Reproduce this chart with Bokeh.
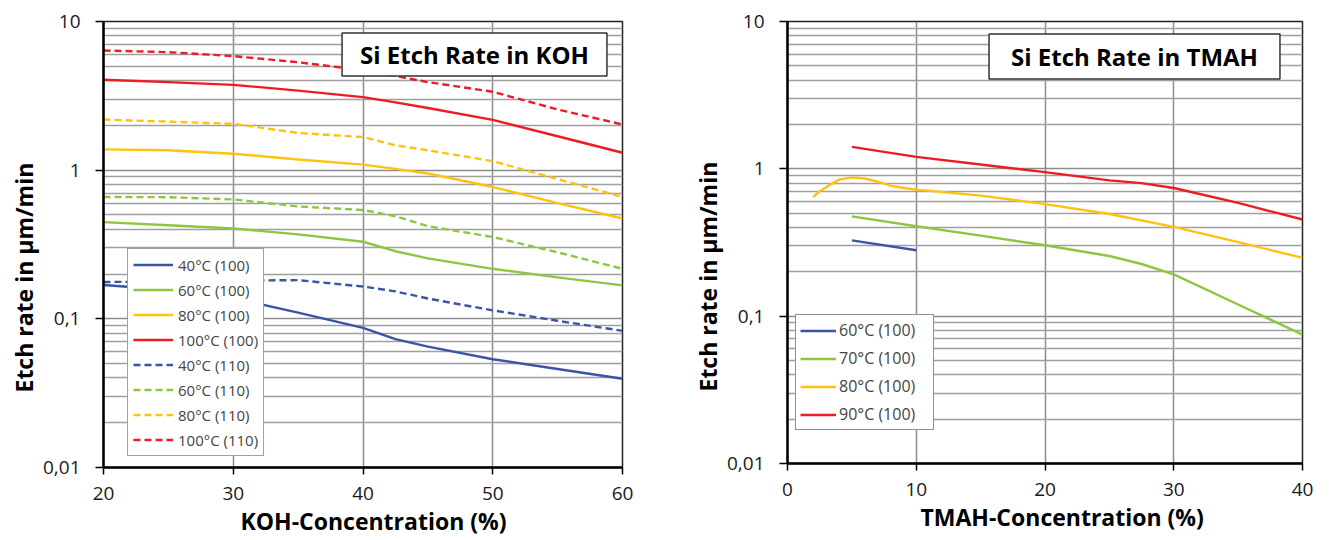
import math
from bokeh.plotting import figure
from bokeh.models import (FixedTicker, CustomJSTickFormatter, Label, Legend,
                          LegendItem, Range1d, Title)
from bokeh.layouts import row
from bokeh.embed import file_html
from bokeh.resources import INLINE

# ---------------- data ----------------
koh_conc = [20, 25, 30, 35, 40, 42.5, 45, 50, 55, 60]
koh_40_100 = [0.169, 0.157, 0.138, 0.110, 0.087, 0.073, 0.065, 0.0535, 0.046, 0.0395]
koh_60_100 = [0.447, 0.426, 0.405, 0.370, 0.330, 0.285, 0.255, 0.217, 0.190, 0.168]
koh_80_100 = [1.38, 1.36, 1.29, 1.18, 1.09, 1.02, 0.95, 0.77, 0.60, 0.473]
koh_100_100 = [4.06, 3.91, 3.75, 3.43, 3.10, 2.86, 2.62, 2.18, 1.69, 1.31]
koh_40_110 = [0.177, 0.178, 0.181, 0.182, 0.165, 0.153, 0.137, 0.114, 0.097, 0.083]
koh_60_110 = [0.66, 0.658, 0.636, 0.57, 0.54, 0.49, 0.42, 0.355, 0.28, 0.217]
koh_80_110 = [2.19, 2.12, 2.05, 1.78, 1.67, 1.47, 1.36, 1.15, 0.87, 0.66]
koh_100_110 = [6.38, 6.22, 5.85, 5.32, 4.70, 4.30, 3.91, 3.37, 2.56, 2.03]
koh_labels = ["40°C (100)", "60°C (100)", "80°C (100)", "100°C (100)",
              "40°C (110)", "60°C (110)", "80°C (110)", "100°C (110)"]

tmah_60_x = [5, 10]
tmah_60 = [0.327, 0.280]
tmah_70_x = [5, 10, 15, 20, 25, 27.5, 30, 35, 40]
tmah_70 = [0.476, 0.408, 0.352, 0.303, 0.256, 0.226, 0.192, 0.120, 0.075]
tmah_80_x = [2, 2.5, 3, 4, 5, 6, 7, 8, 9, 10, 15, 20, 25, 30, 35, 40]
tmah_80 = [0.644, 0.705, 0.75, 0.845, 0.875, 0.86, 0.818, 0.77, 0.741, 0.723,
           0.658, 0.576, 0.494, 0.404, 0.318, 0.249]
tmah_90_x = [5, 10, 15, 20, 25, 27.5, 30, 35, 40]
tmah_90 = [1.41, 1.205, 1.07, 0.95, 0.835, 0.80, 0.741, 0.587, 0.453]
tmah_labels = ["60°C (100)", "70°C (100)", "80°C (100)", "90°C (100)"]

y_major = [0.01, 0.1, 1, 10]
koh_xticks = [20, 30, 40, 50, 60]
tmah_xticks = [0, 10, 20, 30, 40]

BLUE, GREEN, YELLOW, RED = "#3a55a5", "#8dc63f", "#ffc20e", "#ec1c24"
FONT = "Open Sans"


def make_fig(xr, xticks, fw, fh, bl, br, bt, bb):
    p = figure(frame_width=fw, frame_height=fh,
               x_range=Range1d(*xr), y_range=Range1d(0.01, 10),
               y_axis_type="log", output_backend="svg", toolbar_location=None,
               min_border_left=bl, min_border_right=br,
               min_border_top=bt, min_border_bottom=bb)
    p.title.visible = False
    p.background_fill_color = "white"
    p.border_fill_color = "white"
    p.outline_line_color = "#222222"
    p.outline_line_width = 1.5

    minor = [m * d for d in y_major[:-1] for m in range(2, 10)]
    p.yaxis.ticker = FixedTicker(ticks=y_major, minor_ticks=minor)
    p.yaxis.formatter = CustomJSTickFormatter(
        code="return tick.toString().replace('.', ',');")
    p.xaxis.ticker = FixedTicker(ticks=xticks)

    for ax in (p.xaxis, p.yaxis):
        ax.axis_line_color = "black"
        ax.axis_line_width = 2.5
        ax.major_tick_line_color = "black"
        ax.major_tick_line_width = 1.5
        ax.major_tick_in = 0
        ax.minor_tick_line_color = None
        ax.major_label_text_font = FONT
        ax.major_label_text_font_size = "19px"
        ax.major_label_text_color = "#1a1a1a"
    p.xaxis.major_tick_out = 7
    p.yaxis.major_tick_out = 8
    p.xaxis.major_label_standoff = 12
    p.yaxis.major_label_standoff = 15

    p.xgrid.grid_line_color = "#8c8c8c"
    p.xgrid.grid_line_width = 1.5
    p.ygrid.grid_line_color = "#8c8c8c"
    p.ygrid.grid_line_width = 1.3
    p.ygrid.minor_grid_line_color = "#a0a0a0"
    p.ygrid.minor_grid_line_width = 1.3
    return p


def add_title(p, text, cx, cy, pad_h, pad_v):
    pad = dict(left=pad_h, right=pad_h, top=pad_v, bottom=pad_v)
    shadow = Label(x=cx, y=cy, x_units="screen", y_units="screen", text=text,
                   text_font=FONT, text_font_style="bold", text_font_size="24px",
                   text_align="center", text_baseline="middle", text_alpha=0,
                   background_fill_color="#888888", background_fill_alpha=0.55,
                   padding=pad, x_offset=4, y_offset=-4)
    box = Label(x=cx, y=cy, x_units="screen", y_units="screen", text=text,
                text_font=FONT, text_font_style="bold", text_font_size="24px",
                text_align="center", text_baseline="middle", text_color="black",
                background_fill_color="white", border_line_color="#333333",
                border_line_width=1.5, padding=pad)
    p.add_layout(shadow)
    p.add_layout(box)


def add_axis_titles(p, xt, x_off, yt, y_off):
    p.add_layout(Title(text=xt, align="left", offset=x_off, standoff=0,
                       text_font=FONT, text_font_style="bold",
                       text_font_size="23px", text_color="black"), "below")
    p.add_layout(Title(text=yt, align="left", offset=y_off, standoff=0,
                       text_font=FONT, text_font_style="bold",
                       text_font_size="23px", text_color="black"), "left")


# ---------------- KOH ----------------
p1 = make_fig((20, 60), koh_xticks, 519, 446, 103, 38, 21, 72)
series1 = [
    (koh_40_100, BLUE, "solid"), (koh_60_100, GREEN, "solid"),
    (koh_80_100, YELLOW, "solid"), (koh_100_100, RED, "solid"),
    (koh_40_110, BLUE, "7 4"), (koh_60_110, GREEN, "7 4"),
    (koh_80_110, YELLOW, "7 4"), (koh_100_110, RED, "7 4"),
]
items1 = []
for (vals, col, dash), lab in zip(series1, koh_labels):
    r = p1.line(koh_conc, vals, line_color=col, line_width=2.4, line_dash=dash)
    items1.append(LegendItem(label=lab, renderers=[r]))
leg1 = Legend(items=items1, location=(24, 11), glyph_width=40, glyph_height=21,
              label_height=21, spacing=4, padding=5, margin=0, label_standoff=5,
              label_text_font=FONT, label_text_font_size="15px",
              border_line_color="#444444", border_line_width=1.5,
              background_fill_color="white", background_fill_alpha=1)
p1.add_layout(leg1)
add_title(p1, "Si Etch Rate in KOH", 371, 413, 18, 5)
add_axis_titles(p1, "KOH-Concentration (%)", 137, "Etch rate in µm/min", 75)

# ---------------- TMAH ----------------
p2 = make_fig((0, 40), tmah_xticks, 515, 442, 127, 19, 21, 72)
series2 = [
    (tmah_60_x, tmah_60, BLUE), (tmah_70_x, tmah_70, GREEN),
    (tmah_80_x, tmah_80, YELLOW), (tmah_90_x, tmah_90, RED),
]
items2 = []
for (xs, vals, col), lab in zip(series2, tmah_labels):
    r = p2.line(xs, vals, line_color=col, line_width=2.4)
    items2.append(LegendItem(label=lab, renderers=[r]))
leg2 = Legend(items=items2, location=(8, 33), glyph_width=36, glyph_height=21,
              label_height=21, spacing=6, padding=4, margin=0, label_standoff=3,
              label_width=90,
              label_text_font=FONT, label_text_font_size="16px",
              border_line_color="#222222", border_line_width=1.5,
              background_fill_color="white", background_fill_alpha=1)
p2.add_layout(leg2)
add_title(p2, "Si Etch Rate in TMAH", 347, 407, 22, 6)
add_axis_titles(p2, "TMAH-Concentration (%)", 133, "Etch rate in µm/min", 72)

layout = row(p1, p2)
open("out.html", "w").write(file_html(layout, INLINE))
